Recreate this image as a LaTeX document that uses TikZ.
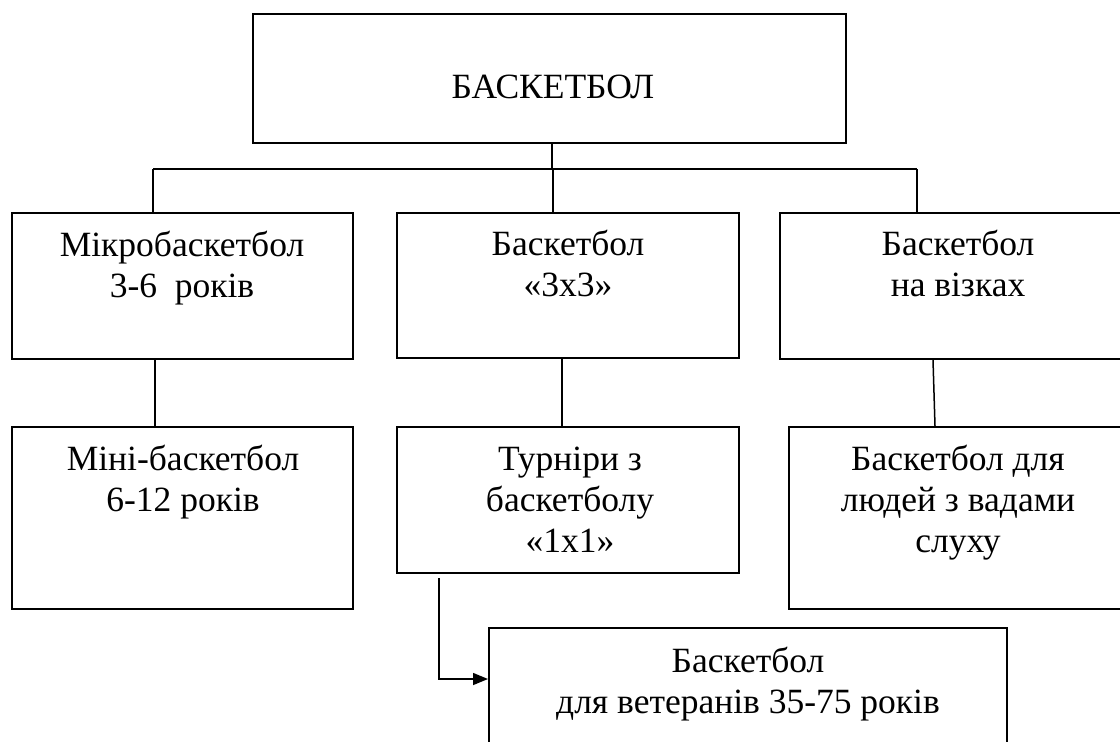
\documentclass[tikz,border=0pt]{standalone}
\usepackage{fontspec}
\setmainfont{Liberation Serif}
\usetikzlibrary{arrows.meta}
\begin{document}
\begin{tikzpicture}[x=1pt,y=-1pt,
  boxshape/.style={draw=black,line width=2pt,rectangle,inner sep=0pt},
  txt/.style={font=\fontsize{35.5}{41}\selectfont,align=center,anchor=base,inner sep=0pt},
  conn/.style={draw=black,line width=1.5pt}]
\useasboundingbox (0,0) rectangle (1120,742);
\fill[white] (0,0) rectangle (1120,742);
% boxes
\node[boxshape,minimum width=593pt,minimum height=129pt] (topbox) at (549.5,78.5) {};
\node[boxshape,minimum width=341pt,minimum height=146pt] (b1) at (182.5,286) {};
\node[boxshape,minimum width=342pt,minimum height=145pt] (b2) at (568,285.5) {};
\node[boxshape,minimum width=342pt,minimum height=146pt] (b3) at (951,286) {};
\node[boxshape,minimum width=341pt,minimum height=182pt] (b4) at (182.5,517.5) {};
\node[boxshape,minimum width=342pt,minimum height=146pt] (b5) at (568,500) {};
\node[boxshape,minimum width=333pt,minimum height=182pt] (b6) at (955.5,518) {};
\node[boxshape,minimum width=518pt,minimum height=150pt] (b7) at (748,703) {};
% texts (anchored at the baseline of the last line)
\node[txt] (t0) at (553,98) {БАСКЕТБОЛ};
\node[txt] (t1) at (182,297) {Мікробаскетбол\\3-6\ \ років};
\node[txt] (t2) at (568,296) {Баскетбол\\«3x3»};
\node[txt] (t3) at (958,296) {Баскетбол\\на візках};
\node[txt] (t4) at (183,511) {Міні-баскетбол\\6-12 років};
\node[txt] (t5) at (570,552) {Турніри з\\баскетболу\\«1x1»};
\node[txt] (t6) at (958,552) {Баскетбол для\\людей з вадами\\слуху};
\node[txt] (t7) at (748,713) {Баскетбол\\для ветеранів 35-75 років};
% connectors
\coordinate (j0) at (552,169);
\coordinate (jl) at (153,169);
\coordinate (jm) at (553,169);
\coordinate (jr) at (917,169);
\coordinate (c1) at (155,0);
\coordinate (c2) at (562,0);
\coordinate (c3a) at (933,0);
\coordinate (c3b) at (935,0);
\draw[conn] (topbox.south -| j0) -- (j0);
\draw[conn] (jl) -- (jr);
\draw[conn] (jl) -- (jl |- b1.north);
\draw[conn] (jm) -- (jm |- b2.north);
\draw[conn] (jr) -- (jr |- b3.north);
\draw[conn] (b1.south -| c1) -- (b4.north -| c1);
\draw[conn] (b2.south -| c2) -- (b5.north -| c2);
\draw[conn] (b3.south -| c3a) -- (b6.north -| c3b);
\coordinate (a0) at (439,578);
\coordinate (a1) at (439,679);
\draw[conn,-{Triangle[length=15pt,width=12pt]}] (a0) -- (a1) -- (a1 -| b7.west);
\end{tikzpicture}
\end{document}
